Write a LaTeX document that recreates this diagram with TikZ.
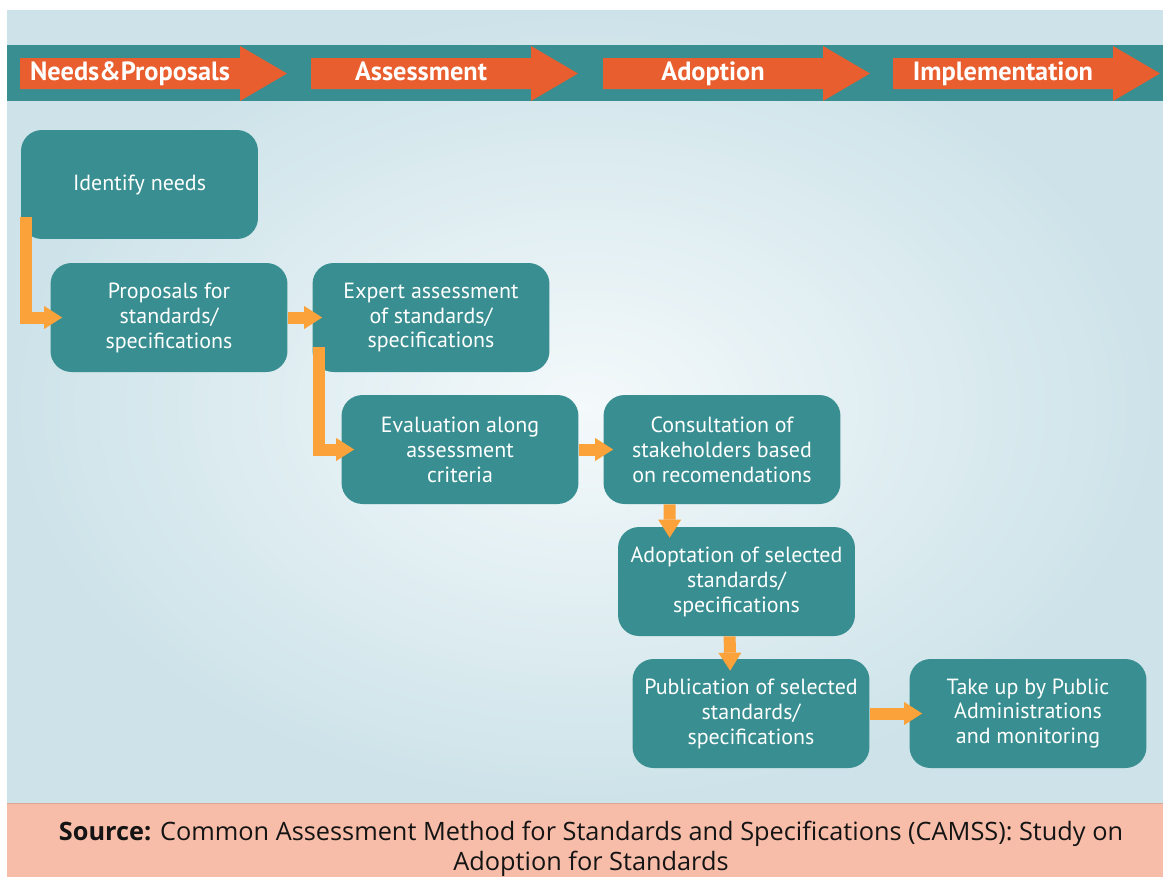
\documentclass[tikz,border=0pt]{standalone}
\usepackage{fontspec}
\setmainfont{PT Sans}
\newfontfamily\srcfont{Open Sans}
\usetikzlibrary{positioning,arrows.meta}
\definecolor{stageteal}{HTML}{388E90}
\definecolor{phaseorange}{HTML}{E95E2E}
\definecolor{floworange}{HTML}{FBA23A}
\definecolor{panelblue}{HTML}{CDE3E9}
\definecolor{panelglow}{HTML}{F4F9FB}
\definecolor{sourcepink}{HTML}{F7BDA9}
\definecolor{sourceline}{HTML}{DDA595}
\tikzset{
  flowarrow/.style={draw=floworange, line width=0.24cm, -{Triangle[width=0.46cm, length=0.36cm, line width=0pt]}},
  stepbox/.style={fill=stageteal, rounded corners=0.42cm, minimum width=4.74cm, minimum height=2.18cm, align=center, text=white, inner sep=0pt, font=\fontsize{12.5}{14.2}\selectfont},
  phase/.style={fill=phaseorange},
  phaselabel/.style={text=white, inner sep=0pt, anchor=base, font=\fontsize{15}{18}\selectfont\bfseries},
  srcnote/.style={align=center, text=black!92, inner sep=0pt, font=\srcfont\fontsize{14.4}{17.2}\selectfont}
}

\begin{document}
\begin{tikzpicture}[x=0.02cm, y=-0.02cm, >=Latex, every node/.style={font=\small}]
  \useasboundingbox (0,0) rectangle (1163,877);
  \fill[white] (0,0) rectangle (1163,877);
  % panel and phase band
  \shade[inner color=panelglow, outer color=panelblue] (7,10) rectangle (1163,803);
  \fill[stageteal] (7,45) rectangle (1163,101);
  \foreach \x/\nm/\txt in {20/needs/Needs\&Proposals, 311/assess/Assessment, 603/adopt/Adoption, 893/implement/Implementation}{
    \fill[phase] (\x,58) -- ++(220,0) -- ++(0,-12) -- ++(47,27.5) -- ++(-47,27.5) -- ++(0,-12) -- ++(-220,0) -- cycle;
    \node[phaselabel] (\nm) at (\x+110,80.5) {\txt};
  }

  % process steps
  \node[stepbox] (idn) at (139.5,184.5) {Identify needs};
  \node[stepbox] (prop) at (169,317.5) {Proposals for\\standards/\\specifications};
  \node[stepbox] (expert) at (431,317.5) {Expert assessment\\of standards/\\specifications};
  \node[stepbox] (eval) at (460,449.5) {Evaluation along\\assessment\\criteria};
  \node[stepbox] (consult) at (722,449.5) {Consultation of\\stakeholders based\\on recomendations};
  \node[stepbox] (adoptn) at (736.5,581.5) {Adoptation of selected\\standards/\\specifications};
  \node[stepbox] (publ) at (751,713.5) {Publication of selected\\standards/\\specifications};
  \node[stepbox] (takeup) at (1028,713.5) {Take up by Public\\Administrations\\and monitoring};

  % flow
  \draw[flowarrow] ([xshift=0.11cm, yshift=0.44cm]idn.south west) |- ([xshift=0.24cm]prop.west);
  \draw[flowarrow] (prop.east) -- ([xshift=0.2cm]expert.west);
  \draw[flowarrow] ([xshift=0.13cm, yshift=0.5cm]expert.south west) |- ([xshift=0.26cm]eval.west);
  \draw[flowarrow] (eval.east) -- ([xshift=0.2cm]consult.west);
  \draw[flowarrow] ([xshift=1.33cm]consult.south west) -- ([xshift=1.04cm, yshift=-0.22cm]adoptn.north west);
  \draw[flowarrow] ([xshift=2.24cm]adoptn.south west) -- ([xshift=1.96cm, yshift=-0.24cm]publ.north west);
  \draw[flowarrow] (publ.east) -- ([xshift=0.26cm]takeup.west);

  % source line
  \fill[sourcepink] (7,803) rectangle (1163,877);
  \draw[sourceline] (7,803.5) -- (1163,803.5);
  \node[srcnote] (src) at (591,849) {\textbf{Source:} Common Assessment Method for Standards and Specifications (CAMSS): Study on\\Adoption for Standards};
\end{tikzpicture}
\end{document}
